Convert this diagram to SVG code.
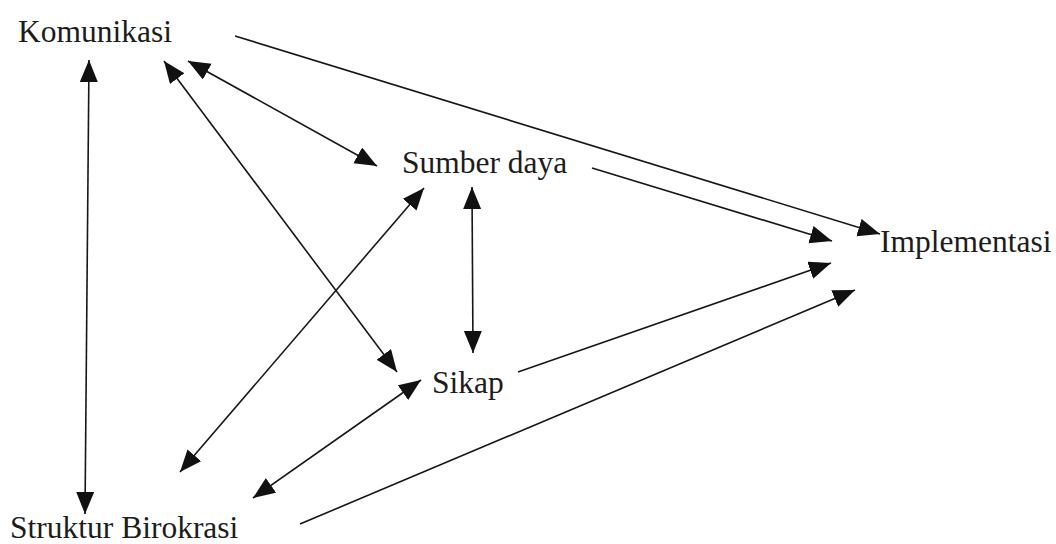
<svg xmlns="http://www.w3.org/2000/svg" width="1056" height="544" viewBox="0 0 1056 544">
<defs>
<marker id="ah" markerUnits="userSpaceOnUse" markerWidth="24" markerHeight="20" refX="22" refY="9" orient="auto-start-reverse">
<path d="M0,0 L22,9 L0,18 z" fill="#111"/>
</marker>
<style>
.lbl{font-family:"Liberation Serif","Times New Roman",serif;font-size:31.5px;fill:#1c1c1c}
.c line{stroke:#161616;stroke-width:1.6;fill:none}
</style>
</defs>
<rect width="1056" height="544" fill="#fff"/>
<g id="node-komunikasi"><text class="lbl" x="18" y="42">Komunikasi</text></g>
<g id="node-sumber-daya"><text class="lbl" x="402" y="173">Sumber daya</text></g>
<g id="node-implementasi"><text class="lbl" x="880" y="252">Implementasi</text></g>
<g id="node-sikap"><text class="lbl" x="432" y="393">Sikap</text></g>
<g id="node-struktur-birokrasi"><text class="lbl" x="10" y="538">Struktur Birokrasi</text></g>
<g id="connectors" class="c">
<line x1="89" y1="60" x2="85" y2="514" marker-start="url(#ah)" marker-end="url(#ah)"/>
<line x1="164" y1="61" x2="397" y2="372" marker-start="url(#ah)" marker-end="url(#ah)"/>
<line x1="188" y1="61" x2="377" y2="166" marker-start="url(#ah)" marker-end="url(#ah)"/>
<line x1="235" y1="36" x2="880" y2="234" marker-end="url(#ah)"/>
<line x1="592" y1="168" x2="832" y2="241" marker-end="url(#ah)"/>
<line x1="472" y1="187" x2="473" y2="353" marker-start="url(#ah)" marker-end="url(#ah)"/>
<line x1="424" y1="188" x2="180" y2="472" marker-start="url(#ah)" marker-end="url(#ah)"/>
<line x1="421" y1="380" x2="253" y2="498" marker-start="url(#ah)" marker-end="url(#ah)"/>
<line x1="518" y1="372" x2="831" y2="263" marker-end="url(#ah)"/>
<line x1="300" y1="524" x2="855" y2="290" marker-end="url(#ah)"/>
</g>
</svg>
